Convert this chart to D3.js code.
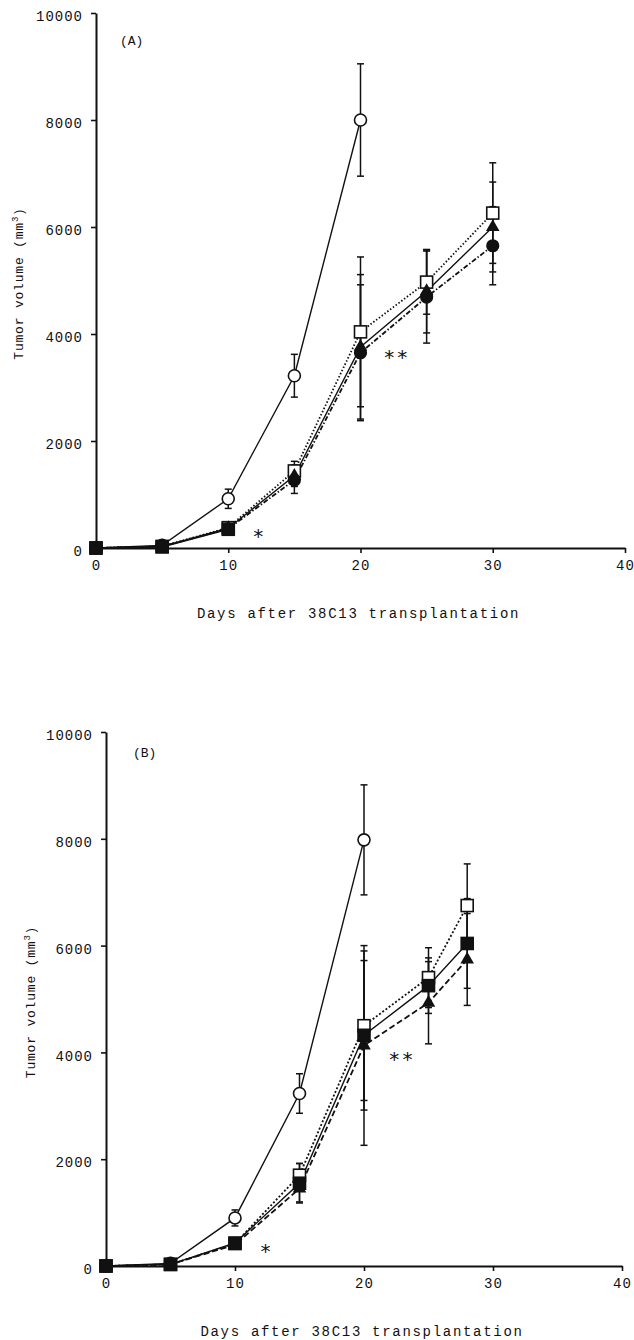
<!DOCTYPE html>
<html>
<head>
<meta charset="utf-8">
<script src="https://cdn.jsdelivr.net/npm/d3@7"></script>
<style>
  body { margin: 0; background: #fff; }
  svg { display: block; }
  text { font-family: "Liberation Mono", "DejaVu Sans Mono", monospace; fill: #111; }
</style>
</head>
<body>
<div id="container"></div>
<script>
const width = 634;
const height = 1340;

// Panel A data (days after transplantation)
const daysA = [0, 5, 10, 15, 20, 25, 30];
const daysControlA = [0, 5, 10, 15, 20];
const aControl = [0, 50, 920, 3220, 8000];
const aControlErr = [0, 0, 180, 400, 1050];
const aOpenSquare = [0, 30, 380, 1440, 4040, 4970, 6260];
const aOpenSquareErr = [0, 0, 60, 180, 1400, 600, 940];
const aTriangle = [0, 30, 370, 1350, 3760, 4800, 6000];
const aTriangleErr = [0, 0, 50, 200, 1350, 780, 840];
const aFilledCircle = [0, 30, 360, 1270, 3650, 4690, 5650];
const aFilledCircleErr = [0, 0, 50, 250, 1270, 860, 730];
const daysFilledSquareA = [0, 5, 10];
const aFilledSquare = [0, 20, 350];
const aFilledSquareErr = [0, 0, 50];

// Panel B data
const daysB = [0, 5, 10, 15, 20, 25, 28];
const daysControlB = [0, 5, 10, 15, 20];
const bControl = [0, 50, 900, 3230, 7980];
const bControlErr = [0, 0, 150, 370, 1030];
const bOpenSquare = [0, 30, 420, 1700, 4500, 5400, 6750];
const bOpenSquareErr = [0, 0, 50, 220, 1400, 560, 780];
const bTriangle = [0, 30, 400, 1450, 4130, 4930, 5740];
const bTriangleErr = [0, 0, 50, 250, 1870, 770, 860];
const bFilledSquare = [0, 30, 430, 1550, 4320, 5250, 6040];
const bFilledSquareErr = [0, 0, 50, 370, 1400, 520, 840];

const xTicks = [0, 10, 20, 30, 40];
const yTicks = [0, 2000, 4000, 6000, 8000, 10000];
const xLabel = "Days after 38C13 transplantation";

// build series table for a panel
function series(days, vals, errs, marker, dash) {
	return {
		points: days.map((d, i) => ({ x: d, y: vals[i], e: errs[i] })),
		marker: marker,
		dash: dash
	};
}

const panels = [
	{
		tag: "(A)",
		xr: [96, 625], yr: [548, 13],
		tagPos: [120, 45], ylabX: 23,
		stars: [["*", 12.3, 370], ["**", 22.7, 3720]],
		lines: [
			series(daysControlA, aControl, aControlErr, "openCircle", null),
			series(daysA, aOpenSquare, aOpenSquareErr, "openSquare", "1.5,2"),
			series(daysA, aFilledCircle, aFilledCircleErr, "filledCircle", "5,2,1.5,2"),
			series(daysA, aTriangle, aTriangleErr, "triangle", null),
			series(daysFilledSquareA, aFilledSquare, aFilledSquareErr, "filledSquare", null)
		]
	},
	{
		tag: "(B)",
		xr: [106, 622], yr: [1266, 732],
		tagPos: [133, 757], ylabX: 35,
		stars: [["*", 12.4, 430], ["**", 22.9, 4030]],
		lines: [
			series(daysControlB, bControl, bControlErr, "openCircle", null),
			series(daysB, bOpenSquare, bOpenSquareErr, "openSquare", "2,2"),
			series(daysB, bTriangle, bTriangleErr, "triangle", "6,3"),
			series(daysB, bFilledSquare, bFilledSquareErr, "filledSquare", null)
		]
	}
];

let svg = d3.select("#container")
	.append("svg")
	.attr("width", width)
	.attr("height", height);

panels.forEach(p => {
	const x = d3.scaleLinear().domain([0, 40]).range(p.xr);
	const y = d3.scaleLinear().domain([0, 10000]).range(p.yr);
	const g = svg.append("g");

	// axes
	const xAxis = g.append("g")
		.attr("transform", "translate(0," + p.yr[0] + ")")
		.call(d3.axisBottom(x).tickValues(xTicks).tickFormat(d3.format("d"))
			.tickSize(5).tickPadding(7).tickSizeOuter(0));
	const yAxis = g.append("g")
		.attr("transform", "translate(" + p.xr[0] + ",0)")
		.call(d3.axisLeft(y).tickValues(yTicks).tickFormat(d3.format("d"))
			.tickSize(5).tickPadding(8).tickSizeOuter(0));
	[xAxis, yAxis].forEach(a => {
		a.select(".domain").attr("stroke", "#111").attr("stroke-width", 2);
		a.selectAll(".tick line").attr("stroke", "#111").attr("stroke-width", 1.6);
		a.selectAll(".tick text")
			.style("font-family", "Liberation Mono, monospace")
			.style("font-size", "14px")
			.style("letter-spacing", "1px")
			.attr("fill", "#111");
	});
	yAxis.selectAll(".tick text").attr("dy", "0.55em");

	// lines
	const line = d3.line().x(d => x(d.x)).y(d => y(d.y));
	p.lines.forEach(s => {
		g.append("path")
			.datum(s.points)
			.attr("d", line)
			.attr("fill", "none")
			.attr("stroke", "#111")
			.attr("stroke-width", s.dash ? 1.8 : 1.4)
			.attr("stroke-dasharray", s.dash);
	});

	// error bars
	p.lines.forEach(s => {
		const eb = g.append("g").selectAll("g")
			.data(s.points.filter(d => d.e > 0))
			.enter().append("g")
			.attr("stroke", "#111")
			.attr("stroke-width", 1.5);
		eb.append("line")
			.attr("x1", d => x(d.x)).attr("x2", d => x(d.x))
			.attr("y1", d => y(d.y + d.e)).attr("y2", d => y(d.y - d.e));
		[1, -1].forEach(sg => {
			eb.append("line")
				.attr("x1", d => x(d.x) - 3.5).attr("x2", d => x(d.x) + 3.5)
				.attr("y1", d => y(d.y + sg * d.e)).attr("y2", d => y(d.y + sg * d.e));
		});
	});

	// markers
	p.lines.forEach(s => {
		const m = g.append("g").selectAll("g")
			.data(s.points)
			.enter().append("g")
			.attr("transform", d => "translate(" + x(d.x) + "," + y(d.y) + ")");
		if (s.marker === "openCircle" || s.marker === "filledCircle") {
			m.append("circle")
				.attr("r", s.marker === "openCircle" ? 6 : 5.8)
				.attr("fill", s.marker === "openCircle" ? "#fff" : "#111")
				.attr("stroke", "#111").attr("stroke-width", 1.6);
		} else if (s.marker === "openSquare" || s.marker === "filledSquare") {
			m.append("rect")
				.attr("x", -6).attr("y", -6).attr("width", 12).attr("height", 12)
				.attr("fill", s.marker === "openSquare" ? "#fff" : "#111")
				.attr("stroke", "#111").attr("stroke-width", 1.6);
		} else {
			m.append("path")
				.attr("d", d3.symbol().type(d3.symbolTriangle).size(80))
				.attr("fill", "#111");
		}
	});

	// significance marks
	g.selectAll(".star")
		.data(p.stars)
		.enter().append("text")
		.attr("x", d => x(d[1]))
		.attr("y", d => y(d[2]))
		.attr("text-anchor", "middle")
		.attr("dy", "0.75em")
		.style("font-family", "DejaVu Sans Mono, monospace")
		.style("font-size", "20px")
		.style("letter-spacing", "1px")
		.text(d => d[0]);

	// panel tag
	g.append("text")
		.attr("x", p.tagPos[0]).attr("y", p.tagPos[1])
		.style("font-size", "13px")
		.text(p.tag);

	// axis titles
	g.append("text")
		.attr("x", (p.xr[0] + p.xr[1]) / 2 - 2)
		.attr("y", p.yr[0] + 70)
		.attr("text-anchor", "middle")
		.style("font-size", "14px")
		.style("letter-spacing", "1.7px")
		.text(xLabel);

	const yl = g.append("text")
		.attr("transform", "translate(" + p.ylabX + "," + ((p.yr[0] + p.yr[1]) / 2 + 3) + ") rotate(-90)")
		.attr("text-anchor", "middle")
		.style("font-size", "13px")
		.style("letter-spacing", "0.8px");
	yl.append("tspan").text("Tumor volume (mm");
	yl.append("tspan").attr("dy", "-5").style("font-size", "9px").text("3");
	yl.append("tspan").attr("dy", "5").text(")");
});
</script>
</body>
</html>
